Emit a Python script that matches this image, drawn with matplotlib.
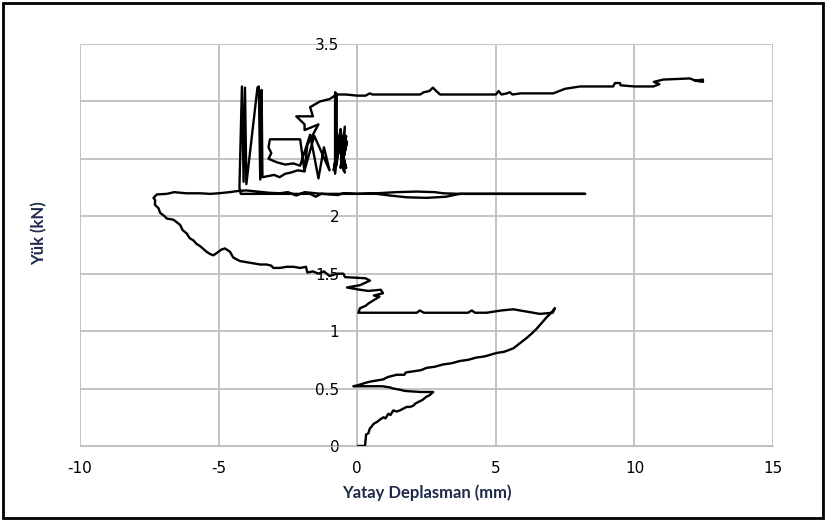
import matplotlib
matplotlib.use('Agg')
import matplotlib.pyplot as plt
from matplotlib.patches import Rectangle

plt.rcParams['axes.unicode_minus'] = False

# Yatay deplasman (mm) ve yuk (kN)
deplasman = [
    0.04, 0.28, 0.30, 0.32, 0.40, 0.45, 0.52, 0.58, 0.64, 0.72, 0.82, 0.95, 1.02, 1.12, 1.20, 1.30,
    1.42, 1.54, 1.62, 1.78, 1.90, 2.02, 2.10, 2.26, 2.35, 2.50, 2.60, 2.74,
    2.30, 1.90, 1.70, 1.54, 1.30, 1.18, 0.90, 0.70, 0.30, -0.14,
    0.04, 0.30, 0.46, 0.70, 0.94, 1.10, 1.42, 1.70, 1.75, 2.02, 2.30, 2.50, 2.80, 3.10, 3.40, 3.70,
    4.00, 4.30, 4.60, 5.03, 5.30, 5.63, 5.90, 6.11, 6.30, 6.47, 6.65, 6.83, 7.00, 7.13,
    7.05, 6.59, 6.10, 5.63, 5.20, 4.67, 4.25, 4.13, 4.00, 2.40, 2.26, 2.15, 0.04,
    0.10, 0.30, 0.40, 0.60, 0.80, 0.60, 0.93, 0.85, 0.40, 0.10, -0.37, 0.10, 0.46, 0.30, -0.44,
    -0.50, -0.73, -1.00, -1.20, -1.40, -1.60, -1.80, -1.85, -2.06, -2.30, -2.54, -2.80, -3.03,
    -3.10, -3.27, -3.50, -3.75, -4.00, -4.23, -4.47, -4.59, -4.77, -4.90, -5.01, -5.19, -5.30,
    -5.43, -5.67, -5.80, -5.91, -6.05, -6.15, -6.30, -6.39, -6.63, -6.87, -6.95, -7.11, -7.17,
    -7.30, -7.29, -7.35, -7.23,
    -6.87, -6.60, -6.40, -6.15, -5.67, -5.31, -5.00, -4.60, -4.30, -4.00, -3.60, -3.20, -2.80,
    -2.50, -2.20, -1.90, -1.50, -1.00, -0.70, -0.50, 0.00, 0.70, 1.40, 2.15, 2.80, 3.10, 3.70, 8.22,
    3.70, 3.20, 2.50, 1.80, 1.20, 0.70, -1.30, -1.50, -1.70, -4.20, -4.25,
    -4.16, -4.10, -4.05, -4.00, -3.60, -3.55, -3.50, -3.45, -3.42,
    -3.20, -3.00, -2.80, -2.60, -2.40, -2.14, -1.90,
    -2.06, -2.50, -3.15, -3.20, -3.10, -3.20, -3.00, -2.90, -2.60, -2.30, -2.06, -1.70, -1.40,
    -1.20, -1.00, -1.55, -1.90, -1.80, -1.40, -1.90, -1.90, -2.20, -1.60, -1.70, -1.34, -1.00,
    -0.74, -0.80, -0.80,
    -0.60, -0.50, -0.45, -0.60, -0.40, -0.55, -0.37, -0.50, -0.70, -0.85, -0.60, -0.45, -0.75,
    -0.40, -0.65, -0.74, -0.74,
    -0.40, 0.00, 0.30, 0.45, 0.55, 0.90, 1.54, 2.00, 2.27, 2.40, 2.60, 2.73, 2.85, 2.99, 5.00,
    5.10, 5.20, 5.40, 5.50, 5.60, 5.90, 6.50, 7.07, 7.50, 8.04, 9.23, 9.30, 9.48, 9.50, 10.00,
    10.68, 10.90, 10.70, 11.04, 12.00, 12.20, 12.47, 12.47, 12.20,
]
yuk = [
    0.00, 0.00, 0.05, 0.10, 0.11, 0.15, 0.17, 0.19, 0.20, 0.21, 0.23, 0.25, 0.24, 0.28, 0.27, 0.31,
    0.30, 0.31, 0.32, 0.34, 0.34, 0.35, 0.37, 0.39, 0.40, 0.43, 0.44, 0.47,
    0.47, 0.476, 0.48, 0.49, 0.50, 0.51, 0.52, 0.52, 0.52, 0.52,
    0.53, 0.55, 0.56, 0.57, 0.58, 0.60, 0.62, 0.62, 0.64, 0.65, 0.66, 0.68, 0.69, 0.71, 0.72, 0.74,
    0.75, 0.77, 0.78, 0.81, 0.82, 0.85, 0.90, 0.94, 0.98, 1.02, 1.07, 1.12, 1.16, 1.20,
    1.16, 1.15, 1.17, 1.19, 1.18, 1.16, 1.16, 1.18, 1.16, 1.16, 1.18, 1.16, 1.16,
    1.20, 1.22, 1.24, 1.27, 1.30, 1.31, 1.33, 1.36, 1.35, 1.36, 1.38, 1.40, 1.44, 1.46, 1.47,
    1.50, 1.50, 1.48, 1.52, 1.50, 1.52, 1.51, 1.56, 1.55, 1.56, 1.56, 1.55, 1.55,
    1.57, 1.58, 1.58, 1.59, 1.60, 1.61, 1.64, 1.69, 1.72, 1.71, 1.69, 1.66, 1.67,
    1.69, 1.74, 1.76, 1.79, 1.81, 1.85, 1.88, 1.925, 1.97, 1.98, 2.00, 2.03, 2.07,
    2.10, 2.14, 2.16, 2.19,
    2.195, 2.21, 2.205, 2.20, 2.20, 2.195, 2.20, 2.21, 2.22, 2.225, 2.215, 2.205, 2.20,
    2.21, 2.18, 2.21, 2.20, 2.19, 2.185, 2.20, 2.195, 2.20, 2.21, 2.215, 2.21, 2.20, 2.195, 2.195,
    2.195, 2.17, 2.16, 2.165, 2.18, 2.195, 2.195, 2.17, 2.195, 2.195, 2.25,
    3.13, 2.30, 3.12, 2.28, 3.12, 3.13, 2.32, 3.10, 2.34,
    2.35, 2.36, 2.34, 2.37, 2.38, 2.40, 2.39,
    2.67, 2.67, 2.67, 2.60, 2.55, 2.50, 2.48, 2.47, 2.45, 2.46, 2.44, 2.71, 2.33,
    2.60, 2.40, 2.70, 2.40, 2.62, 2.80, 2.75, 2.80, 2.87, 2.87, 2.95, 3.00, 3.02,
    3.06, 3.08, 2.37,
    2.75, 2.40, 2.78, 2.42, 2.70, 2.45, 2.65, 2.50, 2.60, 2.40, 2.76, 2.38, 2.72,
    2.42, 2.68, 2.45, 3.06,
    3.06, 3.05, 3.05, 3.07, 3.06, 3.06, 3.06, 3.06, 3.06, 3.08, 3.09, 3.12, 3.09, 3.06, 3.06,
    3.09, 3.06, 3.07, 3.08, 3.06, 3.07, 3.07, 3.07, 3.11, 3.13, 3.13, 3.16, 3.16, 3.14, 3.13,
    3.13, 3.15, 3.17, 3.19, 3.20, 3.18, 3.19, 3.17, 3.18,
]

x_ticks = [-10, -5, 0, 5, 10, 15]
y_ticks = [0, 0.5, 1, 1.5, 2, 2.5, 3, 3.5]
# 2.5 ve 3 etiketleri referansta veri altinda gorunmuyor
y_tick_labels = ['0', '0.5', '1', '1.5', '2', '', '', '3.5']

fig = plt.figure(figsize=(8.26, 5.21), dpi=100)
ax = fig.add_axes([0.0969, 0.1440, 0.8390, 0.7716])

ax.plot(deplasman, yuk, color='black', lw=1.7, zorder=3)

ax.set_xlim(-10, 15)
ax.set_ylim(0, 3.5)
ax.set_xticks(x_ticks)
ax.set_yticks(y_ticks)
ax.set_yticklabels(y_tick_labels)
ax.grid(True, color='#BFBFBF', lw=1.3, zorder=0)

# dikey eksen x=0 noktasinda
for s in ['top', 'right']:
    ax.spines[s].set_visible(False)
ax.spines['left'].set_position(('data', 0))
ax.spines['left'].set_color('#BFBFBF')
ax.spines['bottom'].set_color('#BFBFBF')
ax.spines['left'].set_zorder(1)
ax.yaxis.set_zorder(1)
ax.tick_params(length=0, labelsize=11, labelcolor='black')
ax.tick_params(axis='y', pad=13)
ax.tick_params(axis='x', pad=11)

ax.set_xlabel('Yatay Deplasman (mm)', fontsize=12, fontweight='bold',
              family='Lato', color='#1F2A4A', labelpad=6)
fig.text(0.048, 0.553, 'Yük (kN)', rotation=90, fontsize=12, fontweight='bold',
         family='Lato', color='#1F2A4A', ha='center', va='center')

fig.patches.append(Rectangle((0.004, 0.006), 0.992, 0.988, transform=fig.transFigure,
                             fill=False, lw=2, edgecolor='black'))

plt.savefig('out.png', dpi=100)
plt.close(fig)
